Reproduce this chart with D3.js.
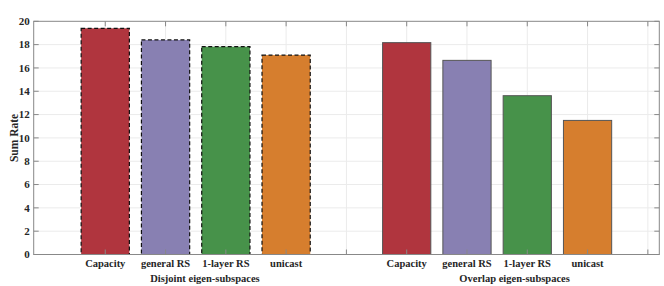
<!DOCTYPE html>
<html><head><meta charset="utf-8">
<script src="https://cdn.jsdelivr.net/npm/d3@7"></script>
<style>body{margin:0;background:#fff}svg{display:block}text{font-family:"Liberation Serif","Times New Roman",serif;font-weight:bold;fill:#262626}</style>
</head><body><svg id="c" width="664" height="286"></svg>
<script>
const categories = ["Capacity","general RS","1-layer RS","unicast"];
const groups = ["Disjoint eigen-subspaces","Overlap eigen-subspaces"];
const disjointValues = [19.4, 18.4, 17.82, 17.1];
const overlapValues = [18.17, 16.65, 13.62, 11.5];
const yTicks = [0,2,4,6,8,10,12,14,16,18,20];
const colors = ["#b0353e","#8880b2","#47924a","#d67e2e"];

const svg = d3.select("#c");
const L=33.7, R=659.3, T=21.3, B=254.5;
const x = d3.scaleLinear().domain([-0.187, 10.19]).range([L,R]);
const y = d3.scaleLinear().domain([0,20]).range([B,T]);
const xTickPos = [1,2,3,4,5,6,7,8,9,10];
const bw = x(0.8)-x(0);

// grid
svg.append("g").selectAll("line").data(yTicks.slice(1,-1)).join("line")
  .attr("x1",L).attr("x2",R).attr("y1",d=>y(d)).attr("y2",d=>y(d))
  .attr("stroke","#ebebeb").attr("stroke-width",1);
svg.append("g").selectAll("line").data(xTickPos).join("line")
  .attr("x1",d=>x(d)).attr("x2",d=>x(d)).attr("y1",T).attr("y2",B)
  .attr("stroke","#ebebeb").attr("stroke-width",1);

const data = [];
disjointValues.forEach((v,i)=>data.push({g:0,i,v,pos:i+1}));
overlapValues.forEach((v,i)=>data.push({g:1,i,v,pos:i+6}));

svg.append("g").selectAll("rect").data(data).join("rect")
  .attr("x",d=>x(d.pos)-bw/2).attr("width",bw)
  .attr("y",d=>y(d.v)).attr("height",d=>y(0)-y(d.v))
  .attr("fill",d=>colors[d.i])
  .attr("stroke",d=>d.g===0?"#111":"#555")
  .attr("stroke-width",d=>d.g===0?1.2:1)
  .attr("stroke-dasharray",d=>d.g===0?"4,2.5":null);

// box
const axc="#888";
svg.append("rect").attr("x",L).attr("y",T).attr("width",R-L).attr("height",B-T)
  .attr("fill","none").attr("stroke",axc).attr("stroke-width",1);
const yt = svg.append("g");
yTicks.forEach(t=>{
  yt.append("line").attr("x1",L).attr("x2",L+5).attr("y1",y(t)).attr("y2",y(t)).attr("stroke",axc);
  yt.append("line").attr("x1",R).attr("x2",R-5).attr("y1",y(t)).attr("y2",y(t)).attr("stroke",axc);
});
const xt = svg.append("g");
xTickPos.forEach(t=>{
  xt.append("line").attr("x1",x(t)).attr("x2",x(t)).attr("y1",T).attr("y2",T+5).attr("stroke",axc);
  xt.append("line").attr("x1",x(t)).attr("x2",x(t)).attr("y1",B).attr("y2",B-5).attr("stroke",axc);
});
svg.append("g").selectAll("text").data(yTicks).join("text")
  .attr("x",L-4).attr("y",d=>y(d)).attr("dy","0.35em").attr("text-anchor","end")
  .attr("font-size",11).text(d=>d);
svg.append("text").attr("transform",`translate(14,${(T+B)/2}) rotate(-90)`)
  .attr("text-anchor","middle").attr("dy","0.35em").attr("font-size",11.5).text("Sum Rate");
svg.append("g").selectAll("text").data(data).join("text")
  .attr("x",d=>x(d.pos)).attr("y",267).attr("text-anchor","middle")
  .attr("font-size",10.5).text(d=>categories[d.i]);
const groupPos=[2.654,7.79];
svg.append("g").selectAll("text").data(groups).join("text")
  .attr("x",(d,i)=>x(groupPos[i])).attr("y",281.5).attr("text-anchor","middle")
  .attr("font-size",10.5).text(d=>d);
</script></body></html>
